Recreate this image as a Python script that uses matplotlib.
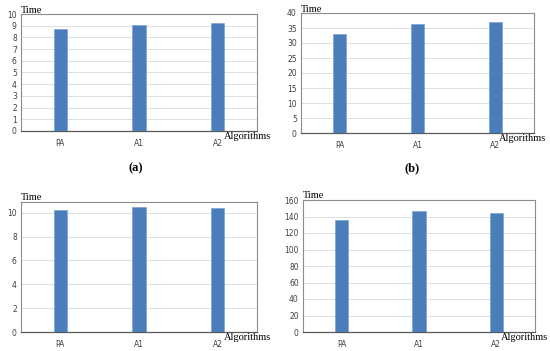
import matplotlib
matplotlib.use("Agg")
import matplotlib.pyplot as plt
import numpy as np

algorithms = ["PA", "A1", "A2"]
time_a = [8.75, 9.1, 9.2]
time_b = [33.0, 36.3, 37.0]
time_c = [10.25, 10.5, 10.4]
time_d = [136, 147, 144]

W, H = 550, 351
BAR_COLOR = "#4a7ebb"
SERIF = "Liberation Serif"


def px_axes(fig, x0, y_top, x1, y_bot):
    return fig.add_axes([x0 / W, 1 - y_bot / H, (x1 - x0) / W, (y_bot - y_top) / H])


def panel(fig, box, values, ymax, ystep, algo_xy, time_xy, label=None, label_xy=None):
    ax = px_axes(fig, *box)
    x = np.arange(len(algorithms))
    ax.bar(x, values, width=0.17, color=BAR_COLOR, edgecolor="#6f9bd0",
           linewidth=0.4, zorder=3)
    ax.set_xlim(-0.5, len(algorithms) - 0.5)
    ax.set_ylim(0, ymax)
    ticks = np.arange(0, ymax + 0.01, ystep)
    ax.set_yticks(ticks)
    ax.set_yticklabels([f"{t:g}" for t in ticks])
    ax.set_xticks(x)
    ax.set_xticklabels(algorithms)
    ax.tick_params(length=0, labelsize=5.5, colors="#404040", pad=3)
    ax.tick_params(axis="x", pad=6)
    ax.grid(axis="y", color="#dedede", linewidth=0.7, zorder=0)
    for side in ["top", "right", "left"]:
        ax.spines[side].set_color("#8c8c8c")
        ax.spines[side].set_linewidth(0.8)
    ax.spines["bottom"].set_color("#595959")
    ax.spines["bottom"].set_linewidth(0.9)
    fig.text(time_xy[0] / W, 1 - time_xy[1] / H, "Time", family=SERIF,
             fontsize=7.5, va="baseline", ha="left")
    fig.text(algo_xy[0] / W, 1 - algo_xy[1] / H, "Algorithms", family=SERIF,
             fontsize=7.5, va="baseline", ha="left")
    if label:
        fig.text(label_xy[0] / W, 1 - label_xy[1] / H, label, family=SERIF,
                 fontsize=9, fontweight="bold", ha="center", va="center")
    return ax


fig = plt.figure(figsize=(W / 100, H / 100), dpi=100)
fig.patch.set_facecolor("white")

panel(fig, (21, 14, 257, 131), time_a, 10, 1, (224, 139), (21, 13), "(a)", (136, 168))
panel(fig, (301, 13, 534, 133), time_b, 40, 5, (499, 141), (301, 12), "(b)", (412, 168))
panel(fig, (21, 202, 257, 332), time_c, 10.9, 2, (224, 340), (21, 200))
panel(fig, (303, 200, 535, 332), time_d, 160, 20, (501, 340), (303, 198))

fig.savefig("out.png", dpi=100)
